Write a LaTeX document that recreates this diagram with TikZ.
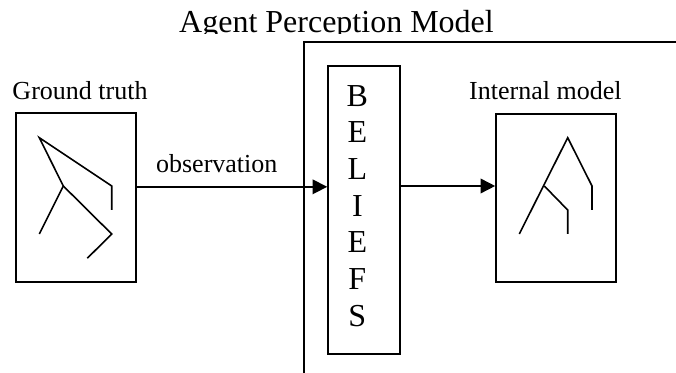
\documentclass[tikz,border=0pt]{standalone}
\usepackage{fontspec}
\setmainfont{Liberation Serif}
\usetikzlibrary{arrows.meta,positioning}

\begin{document}
\begin{tikzpicture}[x=0.75pt,y=-0.75pt,
  box/.style={draw,line width=1.2pt,inner sep=0pt},
  lbl/.style={font=\fontsize{19.5}{23}\selectfont,inner sep=0pt,anchor=base},
  arr/.style={line width=1.2pt,-{Triangle[length=11pt,width=11pt]}},
  fig/.style={line width=1.2pt}]
  \useasboundingbox (0,0) rectangle (676,373);
  % title, cut off at its baseline as in the figure
  \begin{scope}
    \clip (0,0) rectangle (676,34);
    \node[font=\fontsize{24}{28}\selectfont,inner sep=0pt,anchor=base] (title) at (336.5,33) {Agent Perception Model};
  \end{scope}
  % agent frame
  \coordinate (fbot) at (304,373);
  \coordinate (fright) at (676,42);
  \draw[line width=1.2pt] (fbot) |- (fright);

  \node[box,minimum width=90pt,minimum height=126.75pt] (gt) at (76,197.5) {};
  \node[box,minimum width=54pt,minimum height=216pt] (bel) at (364,210) {};
  \node[box,minimum width=90pt,minimum height=126pt] (im) at (556,198) {};
  \node[font=\fontsize{24}{27.5}\selectfont,align=center,inner sep=0pt] (beltxt) at ([xshift=-5pt,yshift=3pt]bel.center) {B\\E\\L\\I\\E\\F\\S};

  \node[lbl] (gtlbl) at ([xshift=3pt,yshift=9.75pt]gt.north) {Ground truth};
  \node[lbl] (imlbl) at ([xshift=-8pt,yshift=10.5pt]im.north) {Internal model};

  \coordinate (obsA) at ([yshift=8pt]gt.east);
  \coordinate (intA) at ([yshift=9pt]im.west);
  \draw[arr] (obsA) -- (obsA -| bel.west) node[lbl,pos=.42,yshift=11pt] (obs) {observation};
  \draw[arr] (intA -| bel.east) -- (intA);

  % stick figures
  \draw[fig] (111.7,210) -- (111.7,186) -- (39.3,137.7) -- (63.3,186) -- (39.3,234);
  \draw[fig] (63.3,186) -- (111.7,234) -- (87.3,258.3);
  \draw[fig] (592,210) -- (592,186) -- (567.7,137.7) -- (519.3,234);
  \draw[fig] (544.3,186) -- (567.7,210) -- (567.7,234);
\end{tikzpicture}
\end{document}
